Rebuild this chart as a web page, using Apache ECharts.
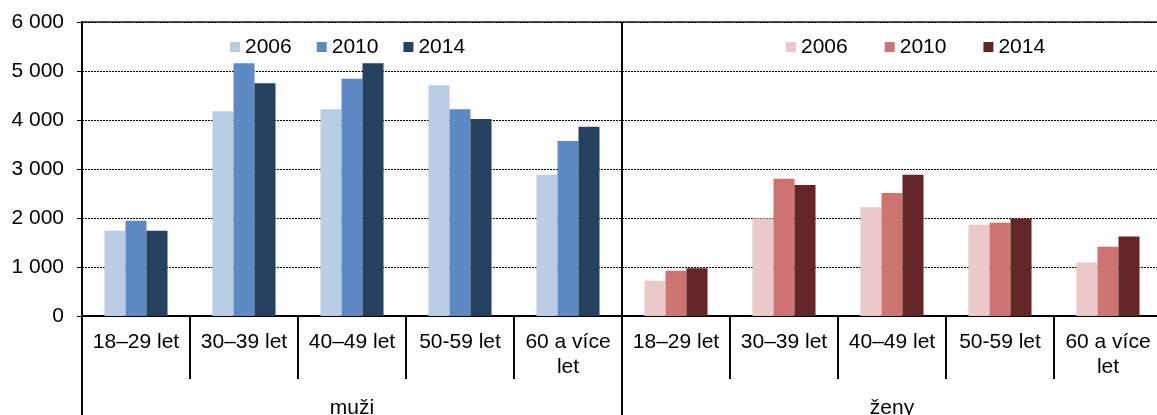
<!DOCTYPE html>
<html>
<head>
<meta charset="utf-8">
<script src="https://cdn.jsdelivr.net/npm/echarts@6/dist/echarts.min.js"></script>
<style>
html, body { margin: 0; padding: 0; background: #fff; }
#chart { width: 1157px; height: 415px; }
</style>
</head>
<body>
<div id="chart"></div>
<script>
var ageGroups = ['18–29 let', '30–39 let', '40–49 let', '50-59 let', '60 a více\nlet'];
var sexes = ['muži', 'ženy'];
var years = ['2006', '2010', '2014'];

var muzi2006 = [1740, 4180, 4220, 4710, 2880];
var muzi2010 = [1945, 5160, 4840, 4220, 3570];
var muzi2014 = [1740, 4750, 5160, 4020, 3860];

var zeny2006 = [720, 1990, 2220, 1860, 1090];
var zeny2010 = [925, 2800, 2510, 1905, 1415];
var zeny2014 = [975, 2675, 2885, 1985, 1620];

var blueColors = ['#B9CDE5', '#5D8AC4', '#26405F'];
var redColors = ['#EBC9C8', '#CD7371', '#632526'];

var categories = ageGroups.concat(ageGroups);
var blank = ['-', '-', '-', '-', '-'];

function thousands(v) {
	return String(v).replace(/\B(?=(\d{3})+(?!\d))/g, ' ');
}

var muzi = [muzi2006, muzi2010, muzi2014];
var zeny = [zeny2006, zeny2010, zeny2014];
var series = [];
for (var i = 0; i < years.length; i++) {
	series.push({
		name: 'm' + years[i],
		type: 'bar',
		stack: 'y' + years[i],
		barWidth: 21,
		barGap: '0%',
		itemStyle: { color: blueColors[i] },
		data: muzi[i].concat(blank)
	});
}
for (var j = 0; j < years.length; j++) {
	series.push({
		name: 'z' + years[j],
		type: 'bar',
		stack: 'y' + years[j],
		barWidth: 21,
		barGap: '0%',
		itemStyle: { color: redColors[j] },
		data: blank.concat(zeny[j])
	});
}

var myChart = echarts.init(document.getElementById('chart'));
var font = 'Liberation Sans, Arial, sans-serif';
var option = {
	backgroundColor: '#fff',
	animation: false,
	textStyle: { fontFamily: font },
	grid: {
		left: 82, top: 22, width: 1080, height: 294,
		containLabel: false, outerBoundsMode: 'none',
		show: true, borderColor: '#222', borderWidth: 1.5
	},
	legend: [{
		left: 225,
		top: 30,
		itemWidth: 10,
		itemHeight: 10,
		itemGap: 25,
		icon: 'rect',
		textStyle: { fontSize: 21, color: '#000', fontFamily: font, lineHeight: 24 },
		formatter: function (name) { return name.slice(1); },
		data: ['m2006', 'm2010', 'm2014']
	}, {
		left: 781,
		top: 30,
		itemWidth: 10,
		itemHeight: 10,
		itemGap: 37,
		icon: 'rect',
		textStyle: { fontSize: 21, color: '#000', fontFamily: font, lineHeight: 24 },
		formatter: function (name) { return name.slice(1); },
		data: ['z2006', 'z2010', 'z2014']
	}],
	xAxis: [{
		type: 'category',
		data: categories,
		position: 'bottom',
		axisLine: { show: true, lineStyle: { color: '#000', width: 2 } },
		axisTick: { show: true, length: 63, lineStyle: { color: '#000', width: 2 } },
		axisLabel: {
			interval: 0,
			margin: 14,
			fontSize: 21,
			lineHeight: 25,
			color: '#000',
			fontFamily: font
		}
	}, {
		type: 'category',
		data: sexes,
		position: 'bottom',
		axisLine: { show: false },
		axisTick: { show: true, length: 100, lineStyle: { color: '#000', width: 2 } },
		splitLine: { show: true, lineStyle: { color: '#000', width: 2, type: 'solid' } },
		axisLabel: {
			interval: 0,
			margin: 80,
			fontSize: 21,
			lineHeight: 25,
			color: '#000',
			fontFamily: font
		}
	}],
	yAxis: {
		type: 'value',
		min: 0,
		max: 6000,
		interval: 1000,
		axisLine: { show: true, lineStyle: { color: '#000', width: 2 } },
		axisTick: { show: true, length: 5, lineStyle: { color: '#000', width: 1 } },
		axisLabel: {
			margin: 18,
			fontSize: 21,
			color: '#000',
			fontFamily: font,
			formatter: thousands
		},
		splitLine: { lineStyle: { color: '#000', type: [2, 1], width: 1 } }
	},
	series: series
};
myChart.setOption(option);
</script>
</body>
</html>
